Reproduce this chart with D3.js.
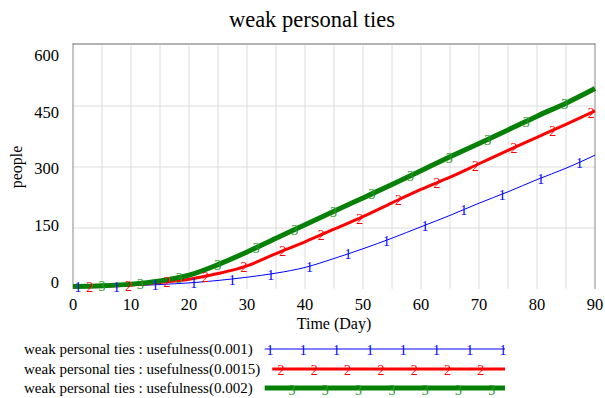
<!DOCTYPE html>
<html>
<head>
<meta charset="utf-8">
<script src="https://cdn.jsdelivr.net/npm/d3@7"></script>
<style>
  body { margin: 0; background: #fff; }
  svg { font-family: "Liberation Serif", "Times New Roman", serif; }
</style>
</head>
<body>
<div id="chart"></div>
<script>
// values, one point every 5 days
var days = [0, 5, 10, 15, 20, 25, 30, 35, 40, 45, 50, 55, 60, 65, 70, 75, 80, 85, 90]
var use001 = [6, 7, 8, 11, 15, 21, 29, 39, 53, 75, 99, 125, 153, 181, 211, 239, 269, 297, 329]
var use0015 = [6, 7, 10, 16, 24, 38, 57, 87, 116, 147, 178, 212, 245, 275, 308, 341, 373, 405, 438]
var use002 = [6, 8, 12, 20, 34, 60, 91, 125, 158, 191, 224, 257, 291, 325, 358, 391, 425, 457, 493]
var yTicks = [0, 150, 300, 450, 600]
var xTicks = [0, 10, 20, 30, 40, 50, 60, 70, 80, 90]

var series = [
    { name: 'weak personal ties : usefulness(0.001)', key: '1', values: use001, color: '#0000ff', mark: '#0000ff', width: 1, start: 0.86 }
    , { name: 'weak personal ties : usefulness(0.0015)', key: '2', values: use0015, color: '#ff0000', mark: '#ff0000', width: 3, start: 2.9 }
    , { name: 'weak personal ties : usefulness(0.002)', key: '3', values: use002, color: '#078007', mark: '#2a9a2a', width: 5, start: 5.0 }
]

var W = 605, H = 398
var m = { left: 73, top: 45, right: 10, bottom: 109 }
var pw = W - m.left - m.right, ph = H - m.top - m.bottom

var svg = d3.select('#chart').append('svg')
    .attr('width', W)
    .attr('height', H)

var x = d3.scaleLinear().domain([0, 90]).range([m.left, m.left + pw])
var y = d3.scaleLinear().domain([0, 600]).range([m.top + ph, m.top])
// vensim spreads the y labels a bit tighter than the grid
var yLab = d3.scaleLinear().domain([0, 600]).range([282, 55])

// title
svg.append('text')
    .attr('x', 312)
    .attr('y', 27)
    .attr('text-anchor', 'middle')
    .attr('font-size', 22.5)
    .text('weak personal ties')

// grid
var grid = svg.append('g')
grid.selectAll('line.v')
    .data(d3.range(5, 90, 5))
    .enter().append('line')
    .attr('x1', d => x(d)).attr('x2', d => x(d))
    .attr('y1', m.top).attr('y2', m.top + ph)
    .attr('stroke', '#dcdcdc').attr('stroke-width', 1)
grid.selectAll('line.h')
    .data([150, 300, 450])
    .enter().append('line')
    .attr('x1', m.left).attr('x2', m.left + pw)
    .attr('y1', d => y(d)).attr('y2', d => y(d))
    .attr('stroke', '#dcdcdc').attr('stroke-width', 1)

// frame
svg.append('line')
    .attr('x1', m.left).attr('x2', m.left + pw)
    .attr('y1', m.top - 1).attr('y2', m.top - 1)
    .attr('stroke', '#b4b4b4').attr('stroke-width', 2)
svg.append('line')
    .attr('x1', m.left).attr('x2', m.left)
    .attr('y1', m.top - 2).attr('y2', m.top + ph)
    .attr('stroke', '#888').attr('stroke-width', 1)
svg.append('line')
    .attr('x1', m.left + pw).attr('x2', m.left + pw)
    .attr('y1', m.top - 2).attr('y2', m.top + ph)
    .attr('stroke', '#888').attr('stroke-width', 1)

// axes labels
svg.append('g').selectAll('text')
    .data(yTicks)
    .enter().append('text')
    .attr('x', 59)
    .attr('y', d => yLab(d))
    .attr('dy', '0.35em')
    .attr('text-anchor', 'end')
    .attr('font-size', 16.5)
    .text(d => d)

svg.append('g').selectAll('text')
    .data(xTicks)
    .enter().append('text')
    .attr('x', d => x(d))
    .attr('y', 304)
    .attr('dy', '0.35em')
    .attr('text-anchor', 'middle')
    .attr('font-size', 16.5)
    .text(d => d)

svg.append('text')
    .attr('x', m.left + pw / 2)
    .attr('y', 323)
    .attr('dy', '0.35em')
    .attr('text-anchor', 'middle')
    .attr('font-size', 16)
    .text('Time (Day)')

svg.append('text')
    .attr('transform', 'translate(16,167) rotate(-90)')
    .attr('dy', '0.35em')
    .attr('text-anchor', 'middle')
    .attr('font-size', 16)
    .text('people')

var line = d3.line()
    .x((d, i) => x(days[i]))
    .y(d => y(d))
    .curve(d3.curveMonotoneX)

// point on the drawn path for a given day
function pointAt(path, t) {
    var px = x(t), lo = 0, hi = path.getTotalLength()
    for (var k = 0; k < 30; k++) {
        var mid = (lo + hi) / 2
        if (path.getPointAtLength(mid).x < px) lo = mid; else hi = mid
    }
    return path.getPointAtLength(lo)
}

var step = 6.65
series.forEach(function (s) {
    var p = svg.append('path')
        .datum(s.values)
        .attr('d', line)
        .attr('fill', 'none')
        .attr('stroke', s.color)
        .attr('stroke-width', s.width)
        .attr('stroke-linejoin', 'round')
    s.path = p.node()
})

series.forEach(function (s) {
    var ts = d3.range(s.start, 90.01, step)
    svg.append('g').selectAll('text')
        .data(ts)
        .enter().append('text')
        .attr('x', d => pointAt(s.path, d).x)
        .attr('y', d => pointAt(s.path, d).y)
        .attr('dy', '0.4em')
        .attr('text-anchor', 'middle')
        .attr('font-size', 14)
        .attr('fill', s.mark)
        .text(s.key)
})

// legend
var legY = [349, 369, 388]
series.forEach(function (s, i) {
    var t = svg.append('text')
        .attr('x', 24)
        .attr('y', legY[i])
        .attr('dy', '0.35em')
        .attr('font-size', 15)
        .text(s.name)
    var x0 = 24 + t.node().getComputedTextLength() + 12
    svg.append('line')
        .attr('x1', x0).attr('x2', 505)
        .attr('y1', legY[i]).attr('y2', legY[i])
        .attr('stroke', s.color)
        .attr('stroke-width', s.width)
    svg.append('g').selectAll('text')
        .data(d3.range(270 + i * 11, 506, 33.3))
        .enter().append('text')
        .attr('x', d => d)
        .attr('y', legY[i])
        .attr('dy', i == 2 ? '0.5em' : '0.4em')
        .attr('text-anchor', 'middle')
        .attr('font-size', 14)
        .attr('fill', s.mark)
        .text(s.key)
})
</script>
</body>
</html>
